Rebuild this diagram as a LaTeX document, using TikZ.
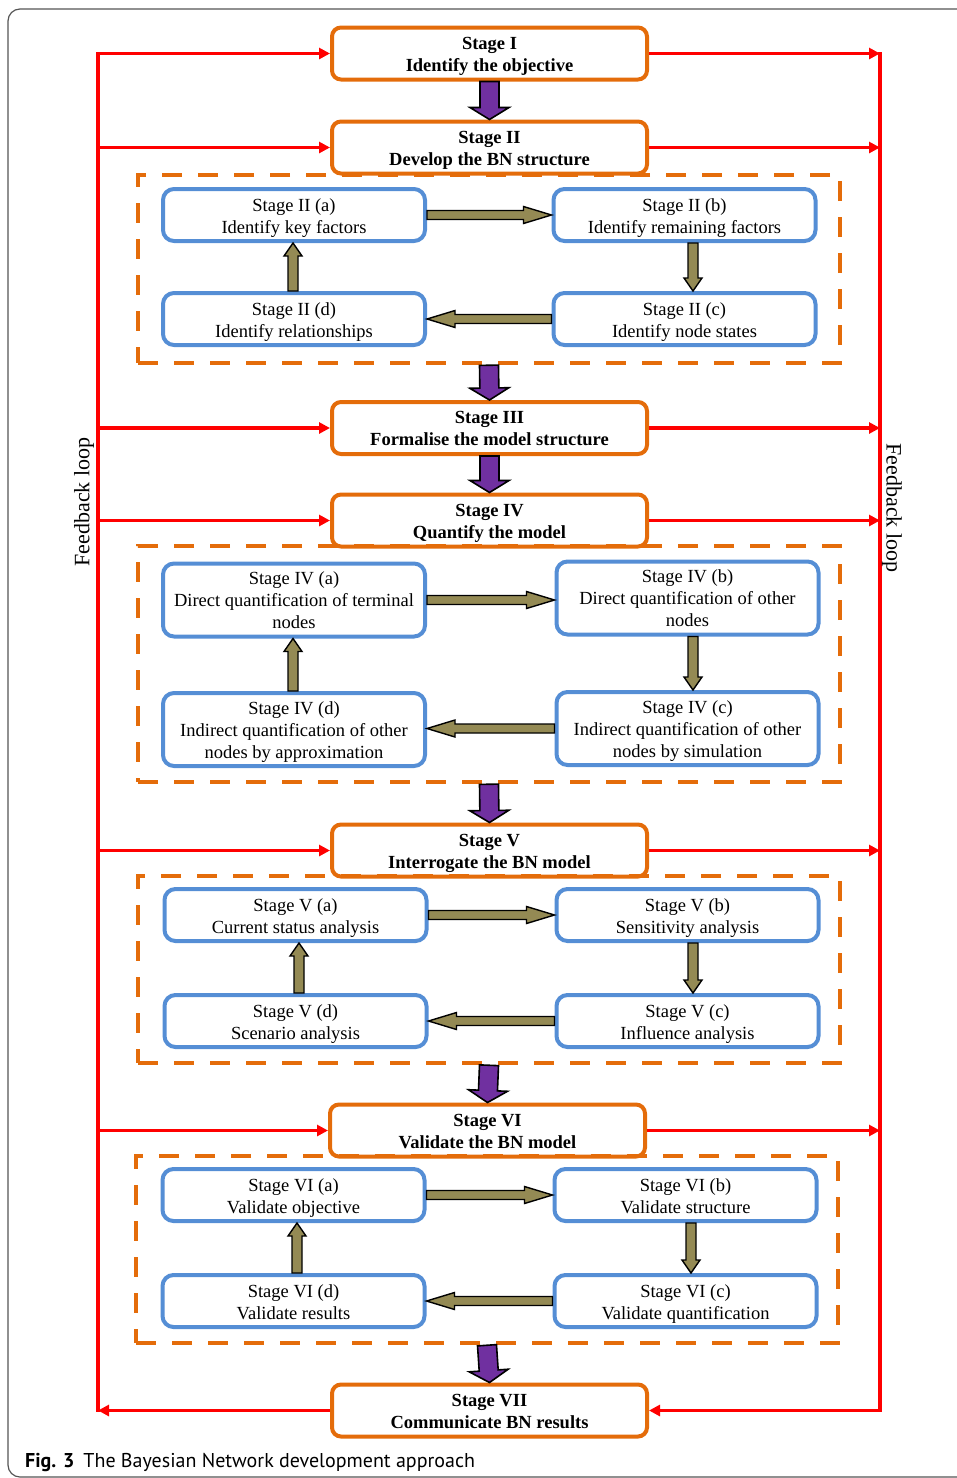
\documentclass[tikz,border=0pt]{standalone}
\usepackage{fontspec}
\setmainfont{Liberation Serif}
\newfontfamily\capfont{PT Sans}
\usetikzlibrary{calc,arrows.meta}

\definecolor{stageorange}{HTML}{E46C0A}
\definecolor{subblue}{HTML}{558ED5}
\definecolor{flowpurple}{HTML}{7030A0}
\definecolor{flowolive}{HTML}{948A54}
\definecolor{loopred}{HTML}{FF0000}
\definecolor{framegray}{HTML}{555555}

\newcommand\boxfont{\fontsize{18.5}{22}\selectfont}
\newcommand\loopfont{\fontsize{22}{26}\selectfont}

% block arrow: style, start, end, shaft half-width, head half-width, head length
\newcommand\blockarrow[6]{%
  \coordinate (ba-s) at #2;
  \coordinate (ba-e) at #3;
  \coordinate (ba-h) at ($(ba-e)!#6!(ba-s)$);
  \filldraw[#1] ($(ba-s)!#4!90:(ba-e)$) -- ($(ba-h)!#4!-90:(ba-s)$)
    -- ($(ba-h)!#5!-90:(ba-s)$) -- (ba-e) -- ($(ba-h)!#5!90:(ba-s)$)
    -- ($(ba-h)!#4!90:(ba-s)$) -- ($(ba-s)!#4!-90:(ba-e)$) -- cycle;
}
\newcommand\stagearrow[2]{\blockarrow{purplearrow}{#1}{#2}{9.5pt}{19.5pt}{12pt}}
\newcommand\hsubarrow[2]{\blockarrow{olivearrow}{#1}{#2}{4.5pt}{8.5pt}{28pt}}
\newcommand\vsubarrow[2]{\blockarrow{olivearrow}{#1}{#2}{5pt}{9pt}{13pt}}

\tikzset{
  stagebox/.style={draw=stageorange, line width=4pt, rounded corners=9pt,
    minimum width=315pt, minimum height=52pt, align=center,
    font=\bfseries\boxfont, inner sep=0pt, text height=35pt, text depth=0pt},
  subbox/.style={draw=subblue, line width=4pt, rounded corners=11pt,
    minimum width=262pt, minimum height=52pt, align=center,
    font=\boxfont, inner sep=0pt, text height=36pt, text depth=0pt},
  tallbox/.style={subbox, minimum height=73pt, text height=57pt},
  groupbox/.style={draw=stageorange, line width=4.5pt,
    dash pattern=on 20pt off 16pt, minimum width=702pt, inner sep=0pt},
  purplearrow/.style={fill=flowpurple, draw=black, line width=1.6pt, line join=miter},
  olivearrow/.style={fill=flowolive, draw=black, line width=1.4pt, line join=miter},
  fb/.style={draw=loopred, line width=3.6pt},
  fbarrow/.style={fb, -{Triangle[length=11pt,width=11pt]}},
}

\begin{document}
\begin{tikzpicture}[x=1pt, y=-1pt]
\useasboundingbox (0,0) rectangle (956,1478);

% card frame
\draw[framegray, line width=1.2pt, rounded corners=12pt]
  (1000,9) -- (8,9) -- (8,1477) -- (1000,1477);

% dashed stage groups
\node[groupbox, minimum height=188pt] (G2) at (489,269) {};
\node[groupbox, minimum height=236pt] (G4) at (489,664) {};
\node[groupbox, minimum height=187pt] (G5) at (489,969.5) {};
\node[groupbox, minimum height=187pt] (G6) at (487,1249.5) {};

% main stages
\node[stagebox] (S1) at (489.5,53.5)  {Stage I\\Identify the objective};
\node[stagebox] (S2) at (489.5,147.5) {Stage II\\Develop the BN structure};
\node[stagebox] (S3) at (489.5,428)   {Stage III\\Formalise the model structure};
\node[stagebox] (S4) at (489.5,520.5) {Stage IV\\Quantify the model};
\node[stagebox] (S5) at (489.5,850.5) {Stage V\\Interrogate the BN model};
\node[stagebox] (S6) at (487.5,1130.5){Stage VI\\Validate the BN model};
\node[stagebox] (S7) at (489.5,1410.5){Stage VII\\Communicate BN results};

% Stage II sub-steps
\node[subbox] (A2) at (294,215)   {Stage II (a)\\Identify key factors};
\node[subbox] (B2) at (684.5,215) {Stage II (b)\\Identify remaining factors};
\node[subbox] (C2) at (684.5,319) {Stage II (c)\\Identify node states};
\node[subbox] (D2) at (294,319)   {Stage II (d)\\Identify relationships};

% Stage IV sub-steps
\node[tallbox] (A4) at (294,600)   {Stage IV (a)\\Direct quantification of terminal\\nodes};
\node[tallbox] (B4) at (687.5,598) {Stage IV (b)\\Direct quantification of other\\nodes};
\node[tallbox] (C4) at (687.5,728.5) {Stage IV (c)\\Indirect quantification of other\\nodes by simulation};
\node[tallbox] (D4) at (294,729.5) {Stage IV (d)\\Indirect quantification of other\\nodes by approximation};

% Stage V sub-steps
\node[subbox] (A5) at (295.5,915)  {Stage V (a)\\Current status analysis};
\node[subbox] (B5) at (687.5,915)  {Stage V (b)\\Sensitivity analysis};
\node[subbox] (C5) at (687.5,1021) {Stage V (c)\\Influence analysis};
\node[subbox] (D5) at (295.5,1021) {Stage V (d)\\Scenario analysis};

% Stage VI sub-steps
\node[subbox] (A6) at (293.5,1195) {Stage VI (a)\\Validate objective};
\node[subbox] (B6) at (685.5,1195) {Stage VI (b)\\Validate structure};
\node[subbox] (C6) at (685.5,1301) {Stage VI (c)\\Validate quantification};
\node[subbox] (D6) at (293.5,1301) {Stage VI (d)\\Validate results};

% flow between stages
\stagearrow{(S1.south)}{(S2.north)}
\stagearrow{(G2.south)}{(S3.north)}
\stagearrow{(S3.south)}{(S4.north)}
\stagearrow{(G4.south)}{(S5.north)}
\stagearrow{(G5.south)}{(S6.north)}
\stagearrow{(G6.south)}{(S7.north)}

% cycles inside the groups
\hsubarrow{(A2.east)}{(A2.east -| B2.west)}
\vsubarrow{([xshift=8.5pt]B2.south)}{([xshift=8.5pt]C2.north)}
\hsubarrow{(C2.west)}{(C2.west -| D2.east)}
\vsubarrow{([xshift=-1pt]D2.north)}{([xshift=-1pt]A2.south)}

\hsubarrow{(A4.east)}{(A4.east -| B4.west)}
\vsubarrow{([xshift=5.5pt]B4.south)}{([xshift=5.5pt]C4.north)}
\hsubarrow{(C4.west)}{(C4.west -| D4.east)}
\vsubarrow{([xshift=-1pt]D4.north)}{([xshift=-1pt]A4.south)}

\hsubarrow{(A5.east)}{(A5.east -| B5.west)}
\vsubarrow{([xshift=5.5pt]B5.south)}{([xshift=5.5pt]C5.north)}
\hsubarrow{(C5.west)}{(C5.west -| D5.east)}
\vsubarrow{([xshift=3.5pt]D5.north)}{([xshift=3.5pt]A5.south)}

\hsubarrow{(A6.east)}{(A6.east -| B6.west)}
\vsubarrow{([xshift=5.5pt]B6.south)}{([xshift=5.5pt]C6.north)}
\hsubarrow{(C6.west)}{(C6.west -| D6.east)}
\vsubarrow{([xshift=3.5pt]D6.north)}{([xshift=3.5pt]A6.south)}

% feedback loop
\coordinate (LT) at (98,53.5);
\coordinate (LB) at (98,1410.5);
\coordinate (RT) at (880,53.5);
\coordinate (RB) at (880,1410.5);
\draw[fb, line cap=rect] (LT) -- (LB);
\draw[fb, line cap=rect] (RT) -- (RB);
\foreach \s in {S1,S2,S3,S4,S5,S6} {
  \draw[fbarrow] (\s.west -| LT) -- (\s.west);
  \draw[fbarrow] (\s.east) -- (\s.east -| RT);
}
\draw[fbarrow] (S7.west) -- (LB);
\draw[fbarrow] (RB) -- (S7.east);

\node[rotate=90, font=\loopfont, inner sep=0pt] (FL) at (84,502) {Feedback loop};
\node[rotate=-90, font=\loopfont, inner sep=0pt] (FR) at (892,508) {Feedback loop};

% caption
\node[anchor=base west, inner sep=0pt, font=\capfont\fontsize{20}{24}\selectfont] (CAP)
  at (25,1467) {\textbf{Fig. 3}\hspace{0.45em}The Bayesian Network development approach};
\end{tikzpicture}
\end{document}
